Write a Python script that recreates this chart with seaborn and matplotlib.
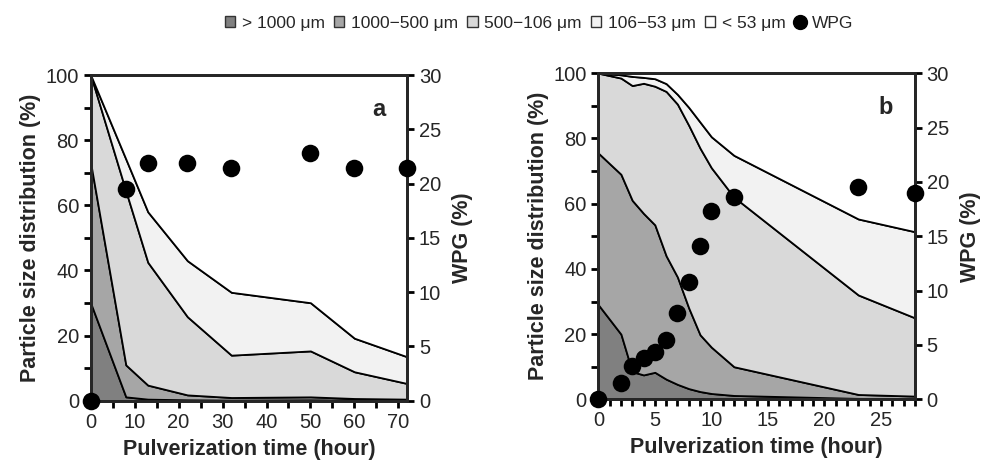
import numpy as np
import matplotlib
matplotlib.use("Agg")
import matplotlib.pyplot as plt
import seaborn as sns
from matplotlib.patches import Patch
from matplotlib.lines import Line2D
from matplotlib.ticker import MultipleLocator

# size classes (legend order)
classes = ["> 1000 \u03bcm", "1000\u2212500 \u03bcm", "500\u2212106 \u03bcm", "106\u221253 \u03bcm", "< 53 \u03bcm"]
colors = ["#808080", "#a6a6a6", "#d9d9d9", "#f2f2f2", "#ffffff"]

# panel a: pulverization time (hour) and size distribution (%)
time_a = [0, 8, 13, 22, 32, 50, 60, 72]
a_gt1000 = [30, 1.2, 0.5, 0.3, 0.2, 0.3, 0.2, 0.2]
a_1000_500 = [43, 9.8, 4.3, 1.5, 0.8, 0.9, 0.5, 0.3]
a_500_106 = [27, 53.4, 37.7, 24.0, 13.0, 14.1, 8.2, 4.8]
a_106_53 = [0, 9.8, 15.5, 17.2, 19.3, 14.8, 10.3, 8.2]
a_lt53 = [0, 25.8, 42.0, 57.0, 66.7, 69.9, 80.8, 86.5]
wpg_time_a = [0, 8, 13, 22, 32, 50, 60, 72]
wpg_a = [0, 19.5, 21.9, 21.9, 21.4, 22.8, 21.4, 21.4]

# panel b
time_b = [0, 2, 3, 4, 5, 6, 7, 8, 9, 10, 12, 23, 28]
b_gt1000 = [29, 20, 8.5, 7.5, 8.3, 6.2, 4.6, 3.3, 2.4, 1.8, 1.2, 0.3, 0.2]
b_1000_500 = [46.5, 49, 52.5, 49.5, 45.2, 37.8, 32.9, 24.7, 17.4, 14.2, 8.8, 1.2, 0.8]
b_500_106 = [24.5, 29.5, 35.2, 39.9, 42.5, 50.4, 53.0, 56.0, 57.2, 55.0, 52.0, 30.5, 24.0]
b_106_53 = [0, 1.0, 2.8, 1.8, 2.3, 2.4, 3.0, 5.5, 8.0, 9.5, 12.8, 23.3, 26.4]
b_lt53 = [0, 0.5, 1.0, 1.3, 1.7, 3.2, 6.5, 10.5, 15.0, 19.5, 25.2, 44.7, 48.6]
wpg_time_b = [0, 2, 3, 4, 5, 6, 7, 8, 9, 10, 12, 23, 28]
wpg_b = [0, 1.5, 3.1, 3.8, 4.4, 5.5, 7.9, 10.8, 14.1, 17.3, 18.6, 19.5, 19.0]

sns.set_style("ticks")
plt.rcParams["font.family"] = ["Liberation Sans", "DejaVu Sans"]
plt.rcParams["axes.linewidth"] = 2

fig = plt.figure(figsize=(9.89, 4.66), dpi=100)
ax_a = fig.add_axes([0.0917, 0.140, 0.320, 0.699])
ax_b = fig.add_axes([0.605, 0.143, 0.320, 0.700])

TICK_FS = 14.5
LABEL_FS = 15.5


def draw_panel(ax, t, parts, wt, w, xmax, xmaj, xmin, tag):
    ax.stackplot(t, *parts, colors=colors, edgecolor="black", linewidth=1.3)
    ax.set_xlim(0, xmax)
    ax.set_ylim(0, 100)
    ax.xaxis.set_major_locator(MultipleLocator(xmaj))
    ax.xaxis.set_minor_locator(MultipleLocator(xmin))
    ax.yaxis.set_major_locator(MultipleLocator(20))
    ax.yaxis.set_minor_locator(MultipleLocator(10))
    ax.tick_params(which="both", direction="out", width=2, length=5,
                   labelsize=TICK_FS, color="black")
    ax.set_xlabel("Pulverization time (hour)", fontsize=LABEL_FS, fontweight="bold", labelpad=5)
    ax.set_ylabel("Particle size distribution (%)", fontsize=LABEL_FS, fontweight="bold", labelpad=3)
    ax.text(0.93, 0.93, tag, transform=ax.transAxes, fontsize=17, fontweight="bold",
            ha="right", va="top")

    ax2 = ax.twinx()
    sns.scatterplot(x=wt, y=w, ax=ax2, color="black", s=160, edgecolor="black",
                    linewidth=0, clip_on=False, zorder=5)
    ax2.set_ylim(0, 30)
    ax2.yaxis.set_major_locator(MultipleLocator(5))
    ax2.tick_params(direction="out", width=2, length=5, labelsize=TICK_FS, color="black")
    ax2.set_ylabel("WPG (%)", fontsize=LABEL_FS, fontweight="bold", labelpad=8)
    for s in ax2.spines.values():
        s.set_linewidth(2)
    return ax2


draw_panel(ax_a, time_a, [a_gt1000, a_1000_500, a_500_106, a_106_53, a_lt53],
           wpg_time_a, wpg_a, 72, 10, 5, "a")
draw_panel(ax_b, time_b, [b_gt1000, b_1000_500, b_500_106, b_106_53, b_lt53],
           wpg_time_b, wpg_b, 28, 5, 1, "b")

handles = [Patch(facecolor=c, edgecolor="#333333", linewidth=1) for c in colors]
handles.append(Line2D([], [], marker="o", color="black", linestyle="none", markersize=10))
fig.legend(handles, classes + ["WPG"], loc="upper center", bbox_to_anchor=(0.545, 1.0),
           ncol=6, frameon=False, fontsize=12.5, handlelength=0.6, handleheight=0.6,
           handletextpad=0.4, columnspacing=0.5)

fig.savefig("out.png", dpi=100)
